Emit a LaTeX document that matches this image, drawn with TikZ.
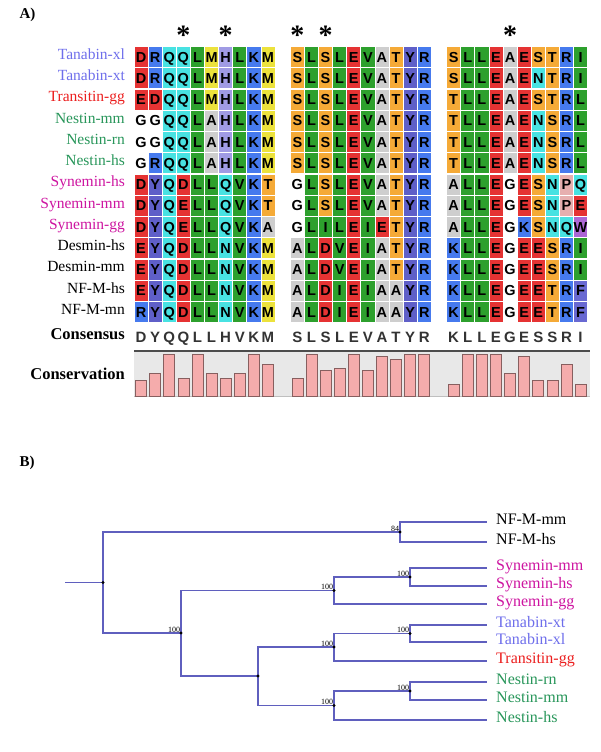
\documentclass[tikz,border=0pt]{standalone}
\usepackage{fontspec}
\setmainfont{Liberation Serif}
\setsansfont{Liberation Sans}
\usetikzlibrary{positioning}

\begin{document}
\begin{tikzpicture}[x=1pt,y=-1pt,
  residu/.style={anchor=base, inner sep=0pt, font=\sffamily\bfseries\fontsize{14.5}{14.5}\selectfont},
  nomseq/.style={anchor=mid east, inner sep=0pt, font=\fontsize{15.5}{16}\selectfont},
  arbre/.style={draw=branche, line width=1.1pt},
  feuille/.style={anchor=mid west, inner sep=0pt, font=\fontsize{16}{16}\selectfont},
  boot/.style={anchor=south east, inner sep=0.6pt, font=\fontsize{8}{8}\selectfont}]
  % Définir les couleurs des résidus
  \definecolor{cr}{RGB}{229,51,51}
  \definecolor{cb}{RGB}{70,122,238}
  \definecolor{cy}{RGB}{95,95,200}
  \definecolor{ch}{RGB}{160,155,228}
  \definecolor{cc}{RGB}{72,226,226}
  \definecolor{cg}{RGB}{45,160,45}
  \definecolor{co}{RGB}{245,170,55}
  \definecolor{cm}{RGB}{236,226,60}
  \definecolor{ca}{RGB}{206,206,206}
  \definecolor{cw}{RGB}{255,255,255}
  \definecolor{cp}{RGB}{230,175,175}
  \definecolor{cv}{RGB}{172,102,212}
  \definecolor{cf}{RGB}{105,105,210}
  % Couleurs des familles
  \definecolor{tanabin}{RGB}{110,110,235}
  \definecolor{transitin}{RGB}{235,30,30}
  \definecolor{nestin}{RGB}{40,150,90}
  \definecolor{synemin}{RGB}{205,20,160}
  \definecolor{barre}{RGB}{245,172,172}
  \definecolor{branche}{RGB}{95,95,190}

  \useasboundingbox (0,0) rectangle (600,752);

  % Partie A
  \node[font=\bfseries\fontsize{15}{15}\selectfont, anchor=west] (titreA) at (16,15) {A)};

  % Les séquences alignées
  \foreach \nom/\coul/\res [count=\i from 0] in {
    {Tanabin-xl}/tanabin/{D/cr,R/cb,Q/cc,Q/cc,L/cg,M/cm,H/ch,L/cg,K/cb,M/cm,S/co,L/cg,S/co,L/cg,E/cr,V/cg,A/ca,T/co,Y/cy,R/cb,S/co,L/cg,L/cg,E/cr,A/ca,E/cr,S/co,T/co,R/cb,I/cg},
    {Tanabin-xt}/tanabin/{D/cr,R/cb,Q/cc,Q/cc,L/cg,M/cm,H/ch,L/cg,K/cb,M/cm,S/co,L/cg,S/co,L/cg,E/cr,V/cg,A/ca,T/co,Y/cy,R/cb,S/co,L/cg,L/cg,E/cr,A/ca,E/cr,N/cc,T/co,R/cb,I/cg},
    {Transitin-gg}/transitin/{E/cr,D/cr,Q/cc,Q/cc,L/cg,M/cm,H/ch,L/cg,K/cb,M/cm,S/co,L/cg,S/co,L/cg,E/cr,V/cg,A/ca,T/co,Y/cy,R/cb,T/co,L/cg,L/cg,E/cr,A/ca,E/cr,S/co,T/co,R/cb,L/cg},
    {Nestin-mm}/nestin/{G/cw,G/cw,Q/cc,Q/cc,L/cg,A/ca,H/ch,L/cg,K/cb,M/cm,S/co,L/cg,S/co,L/cg,E/cr,V/cg,A/ca,T/co,Y/cy,R/cb,T/co,L/cg,L/cg,E/cr,A/ca,E/cr,N/cc,S/co,R/cb,L/cg},
    {Nestin-rn}/nestin/{G/cw,G/cw,Q/cc,Q/cc,L/cg,A/ca,H/ch,L/cg,K/cb,M/cm,S/co,L/cg,S/co,L/cg,E/cr,V/cg,A/ca,T/co,Y/cy,R/cb,T/co,L/cg,L/cg,E/cr,A/ca,E/cr,N/cc,S/co,R/cb,L/cg},
    {Nestin-hs}/nestin/{G/cw,R/cb,Q/cc,Q/cc,L/cg,A/ca,H/ch,L/cg,K/cb,M/cm,S/co,L/cg,S/co,L/cg,E/cr,V/cg,A/ca,T/co,Y/cy,R/cb,T/co,L/cg,L/cg,E/cr,A/ca,E/cr,N/cc,S/co,R/cb,L/cg},
    {Synemin-hs}/synemin/{D/cr,Y/cy,Q/cc,D/cr,L/cg,L/cg,Q/cc,V/cg,K/cb,T/co,G/cw,L/cg,S/co,L/cg,E/cr,V/cg,A/ca,T/co,Y/cy,R/cb,A/ca,L/cg,L/cg,E/cr,G/cw,E/cr,S/co,N/cc,P/cp,Q/cc},
    {Synemin-mm}/synemin/{D/cr,Y/cy,Q/cc,E/cr,L/cg,L/cg,Q/cc,V/cg,K/cb,T/co,G/cw,L/cg,S/co,L/cg,E/cr,V/cg,A/ca,T/co,Y/cy,R/cb,A/ca,L/cg,L/cg,E/cr,G/cw,E/cr,S/co,N/cc,P/cp,E/cr},
    {Synemin-gg}/synemin/{D/cr,Y/cy,Q/cc,E/cr,L/cg,L/cg,Q/cc,V/cg,K/cb,A/ca,G/cw,L/cg,I/cg,L/cg,E/cr,I/cg,E/cr,T/co,Y/cy,R/cb,A/ca,L/cg,L/cg,E/cr,G/cw,K/cb,S/co,N/cc,Q/cc,W/cv},
    {Desmin-hs}/black/{E/cr,Y/cy,Q/cc,D/cr,L/cg,L/cg,N/cc,V/cg,K/cb,M/cm,A/ca,L/cg,D/cr,V/cg,E/cr,I/cg,A/ca,T/co,Y/cy,R/cb,K/cb,L/cg,L/cg,E/cr,G/cw,E/cr,E/cr,S/co,R/cb,I/cg},
    {Desmin-mm}/black/{E/cr,Y/cy,Q/cc,D/cr,L/cg,L/cg,N/cc,V/cg,K/cb,M/cm,A/ca,L/cg,D/cr,V/cg,E/cr,I/cg,A/ca,T/co,Y/cy,R/cb,K/cb,L/cg,L/cg,E/cr,G/cw,E/cr,E/cr,S/co,R/cb,I/cg},
    {NF-M-hs}/black/{E/cr,Y/cy,Q/cc,D/cr,L/cg,L/cg,N/cc,V/cg,K/cb,M/cm,A/ca,L/cg,D/cr,I/cg,E/cr,I/cg,A/ca,A/ca,Y/cy,R/cb,K/cb,L/cg,L/cg,E/cr,G/cw,E/cr,E/cr,T/co,R/cb,F/cf},
    {NF-M-mn}/black/{R/cb,Y/cy,Q/cc,D/cr,L/cg,L/cg,N/cc,V/cg,K/cb,M/cm,A/ca,L/cg,D/cr,I/cg,E/cr,I/cg,A/ca,A/ca,Y/cy,R/cb,K/cb,L/cg,L/cg,E/cr,G/cw,E/cr,E/cr,T/co,R/cb,F/cf}}{
    \pgfmathsetmacro\y{57+21.25*\i}
    \node[nomseq, text=\coul] (nom-\i) at (125,\y) {\nom};
    \foreach \lettre/\teinte [count=\k from 0] in \res {
      \pgfmathsetmacro\x{134+14.1*\k+15.3*floor(\k/10)}
      \filldraw[fill=\teinte, draw=white, line width=0.8pt] (\x,\y-10.6) rectangle ++(14.1,21.2);
      \node[residu] (r-\i-\k) at (\x+7.05,\y+5.2) {\lettre};
    }
  }

  % Les étoiles
  \foreach \k in {3,6,10,12,24} {
    \pgfmathsetmacro\x{134+14.1*\k+15.3*floor(\k/10)}
    \node[inner sep=0pt, anchor=base, font=\bfseries\fontsize{28}{28}\selectfont] (etoile-\k) at (\x+7.05,45) {*};
  }

  % Consensus
  \node[nomseq, font=\bfseries\fontsize{16.5}{17}\selectfont] (consensus) at (125,337) {Consensus};
  \foreach \lettre [count=\k from 0] in {D,Y,Q,Q,L,L,H,V,K,M,S,L,S,L,E,V,A,T,Y,R,K,L,L,E,G,E,S,S,R,I} {
    \pgfmathsetmacro\x{134+14.1*\k+15.3*floor(\k/10)}
    \node[residu, text=black!80, font=\sffamily\bfseries\fontsize{15}{15}\selectfont] (cons-\k) at (\x+7.05,342.4) {\lettre};
  }

  % Conservation
  \node[nomseq, font=\bfseries\fontsize{16.5}{17}\selectfont] (conservation) at (125,377) {Conservation};
  \fill[gray!18] (134,351) rectangle (590,396);
  \draw[gray!60!black, line width=1.5pt] (134,351) -- (590,351);
  \draw[gray!50, line width=0.6pt] (134,396) -- (590,396);
  \foreach \h [count=\k from 0] in {0.37,0.55,1,0.43,1,0.55,0.43,0.55,1,0.76,
                                    0.43,1,0.62,0.67,1,0.62,0.94,0.88,1,1,
                                    0.29,1,1,1,0.55,0.94,0.37,0.37,0.76,0.29} {
    \pgfmathsetmacro\x{134+14.1*\k+15.3*floor(\k/10)}
    \filldraw[fill=barre, draw=barre!55!black, line width=0.6pt] (\x+1.5,396) rectangle (\x+12.5,396-42*\h);
  }

  % Partie B
  \node[font=\bfseries\fontsize{15}{15}\selectfont, anchor=west] (titreB) at (16,463) {B)};

  % Les noeuds internes de l'arbre
  \coordinate (base) at (65,582.5);
  \coordinate (racine) at (103,582.5);
  \coordinate (nfm) at (400,532);
  \coordinate (n100) at (181,633);
  \coordinate (syn) at (334,590.5);
  \coordinate (syn2) at (410,577);
  \coordinate (tannes) at (258,676);
  \coordinate (tan) at (334,647);
  \coordinate (tan2) at (410,633.5);
  \coordinate (nes) at (334,705.5);
  \coordinate (nes2) at (410,691);

  % Les feuilles
  \foreach \nom/\coul/\yf/\id in {NF-M-mm/black/522/nfmm, NF-M-hs/black/542/nfhs,
      Synemin-mm/synemin/568/synmm, Synemin-hs/synemin/586/synhs, Synemin-gg/synemin/604/syngg,
      Tanabin-xt/tanabin/625/tanxt, Tanabin-xl/tanabin/642/tanxl, Transitin-gg/transitin/661/trgg,
      Nestin-rn/nestin/682/nesrn, Nestin-mm/nestin/700/nesmm, Nestin-hs/nestin/720/neshs} {
    \coordinate (f-\id) at (487,\yf);
    \node[right=9pt of f-\id, feuille, text=\coul] (\id) {\nom};
  }

  % Les branches
  \draw[arbre] (base) -- (racine);
  \draw[arbre] (racine) |- (nfm);
  \draw[arbre] (racine) |- (n100);
  \draw[arbre] (nfm) |- (f-nfmm);
  \draw[arbre] (nfm) |- (f-nfhs);
  \draw[arbre] (n100) |- (syn);
  \draw[arbre] (n100) |- (tannes);
  \draw[arbre] (syn) |- (syn2);
  \draw[arbre] (syn) |- (f-syngg);
  \draw[arbre] (syn2) |- (f-synmm);
  \draw[arbre] (syn2) |- (f-synhs);
  \draw[arbre] (tannes) |- (tan);
  \draw[arbre] (tannes) |- (nes);
  \draw[arbre] (tan) |- (tan2);
  \draw[arbre] (tan) |- (f-trgg);
  \draw[arbre] (tan2) |- (f-tanxt);
  \draw[arbre] (tan2) |- (f-tanxl);
  \draw[arbre] (nes) |- (nes2);
  \draw[arbre] (nes) |- (f-neshs);
  \draw[arbre] (nes2) |- (f-nesrn);
  \draw[arbre] (nes2) |- (f-nesmm);

  % Les points et les valeurs de bootstrap
  \foreach \n in {racine,nfm,n100,syn,syn2,tannes,tan,tan2,nes,nes2}
    \fill (\n) circle (1.6pt);
  \node[boot] (b-nfm) at (nfm) {84};
  \foreach \n in {n100,syn,syn2,tan,tan2,nes,nes2}
    \node[boot] (b-\n) at (\n) {100};
\end{tikzpicture}
\end{document}
